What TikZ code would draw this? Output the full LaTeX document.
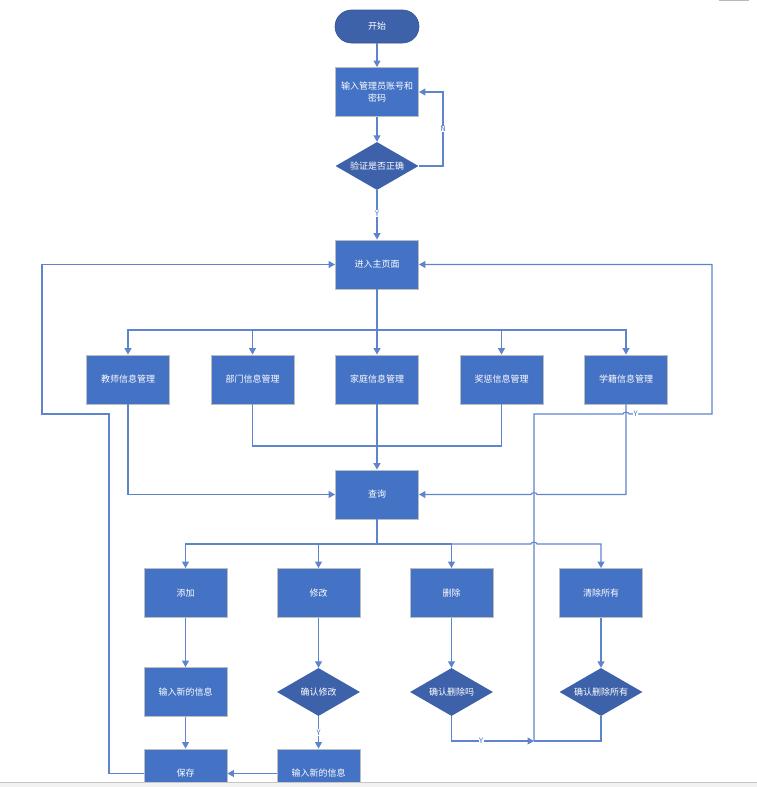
\documentclass[tikz,border=0pt]{standalone}
\usepackage{fontspec}
\setmainfont{Noto Sans CJK SC}
\usetikzlibrary{shapes.geometric,arrows.meta}
\definecolor{boxblue}{HTML}{4472C4}
\definecolor{dblue}{HTML}{3E62A9}
\definecolor{lineblue}{HTML}{5F84CE}
\definecolor{edgegrey}{HTML}{BDBDBD}
\begin{document}
\begin{tikzpicture}[x=1pt,y=-1pt,
  proc/.style={rectangle, fill=boxblue, draw=edgegrey, line width=0.9pt, minimum width=83pt, minimum height=49pt, inner sep=0pt, text=white, font=\fontsize{9}{12}\selectfont, align=center},
  dec/.style={diamond, aspect=1.73, fill=dblue, draw=none, minimum width=83pt, minimum height=48pt, inner sep=0pt, text=white, font=\fontsize{9}{12}\selectfont},
  term/.style={rectangle, rounded corners=16.5pt, fill=dblue, draw=dblue!85!black, line width=0.6pt, minimum width=84pt, minimum height=33pt, inner sep=0pt, text=white, font=\fontsize{9}{12}\selectfont},
  conn/.style={draw=lineblue, line width=1.1pt},
  arr/.style={conn, -{Triangle[length=6.5pt,width=7pt]}},
  lbl/.style={fill=white, inner sep=0.6pt, text=boxblue, font=\fontsize{7.5}{8}\selectfont}
]
\path[use as bounding box] (0,0) rectangle (757,787);
\clip (0,0) rectangle (757,787);

% nodes
\node[term] (start) at (377,26.5) {开始};
\node[proc] (login) at (377,92) {输入管理员账号和\\密码};
\node[dec] (verify) at (377,166) {验证是否正确};
\node[proc] (home) at (377,264.5) {进入主页面};

\node[proc] (teacher) at (128,379.5) {教师信息管理};
\node[proc] (dept) at (252.5,379.5) {部门信息管理};
\node[proc] (family) at (377,379.5) {家庭信息管理};
\node[proc] (award) at (501.5,379.5) {奖惩信息管理};
\node[proc] (status) at (626,379.5) {学籍信息管理};

\node[proc] (query) at (377,494.5) {查询};

\node[proc] (add) at (185.5,593) {添加};
\node[proc] (modify) at (318.5,593) {修改};
\node[proc] (del) at (451.5,593) {删除};
\node[proc] (clear) at (601,593) {清除所有};

\node[proc] (input1) at (185.5,692) {输入新的信息};
\node[dec] (cmod) at (318.5,692) {确认修改};
\node[dec] (cdel) at (451.5,692) {确认删除吗};
\node[dec] (cclr) at (601,692) {确认删除所有};

\node[proc] (save) at (185.5,773.5) {保存};
\node[proc] (input2) at (318.5,773.5) {输入新的信息};

\coordinate (j) at (534,741);

% connectors top
\draw[arr] (start) -- (login);
\draw[arr] (login) -- (verify);
\draw[arr] (verify.east) -- (443,166) -- node[lbl]{N} (443,92) -- (login.east);
\draw[arr] (verify) -- node[lbl,pos=0.47]{Y} (home);

% home to row
\draw[arr] (home.south) -- (377,330) -| (teacher.north);
\draw[arr] (home.south) -- (377,330) -| (dept.north);
\draw[arr] (home) -- (family);
\draw[arr] (home.south) -- (377,330) -| (award.north);
\draw[arr] (home.south) -- (377,330) -| (status.north);

% row to query
\draw[arr] (teacher.south) |- (query.west);
\draw[conn] (dept.south) |- (377,446);
\draw[conn] (award.south) |- (377,446);
\draw[arr] (family) -- (query);
\draw[arr] (status.south) -- (626,494.5) -- (537,494.5) to[out=90,in=90] (531,494.5) -- (query.east);

% query to row 2
\draw[arr] (query.south) -- (377,544) -| (add.north);
\draw[arr] (query.south) -- (377,544) -| (modify.north);
\draw[arr] (query.south) -- (377,544) -| (del.north);
\draw[arr] (query.south) -- (377,544) -- (531,544) to[out=90,in=90] (537,544) -| (clear.north);

% columns
\draw[arr] (add) -- (input1);
\draw[arr] (input1) -- (save);
\draw[arr] (modify) -- (cmod);
\draw[arr] (cmod) -- node[lbl]{Y} (input2);
\draw[arr] (input2) -- (save);
\draw[arr] (del) -- (cdel);
\draw[arr] (clear) -- (cclr);

% delete loops
\draw[arr] (cdel.south) |- node[lbl,pos=0.68]{Y} (j);
\draw[conn] (cclr.south) |- (j);
\draw[arr] (j) -- (534,414) -- (623,414) to[out=90,in=90] (629,414) -- node[lbl,pos=0.08]{Y} (712,414) -- (712,264.5) -- (home.east);

% save loop
\draw[arr] (save.west) -- (109,773.5) -- (109,414) -- (42,414) |- (home.west);

% window chrome
\fill[gray!10] (0,782) rectangle (757,787);
\draw[gray!45, line width=0.8pt] (0,782) -- (757,782);
\draw[gray!55, line width=1.2pt] (719,0.6) -- (749,0.6);
\end{tikzpicture}
\end{document}
